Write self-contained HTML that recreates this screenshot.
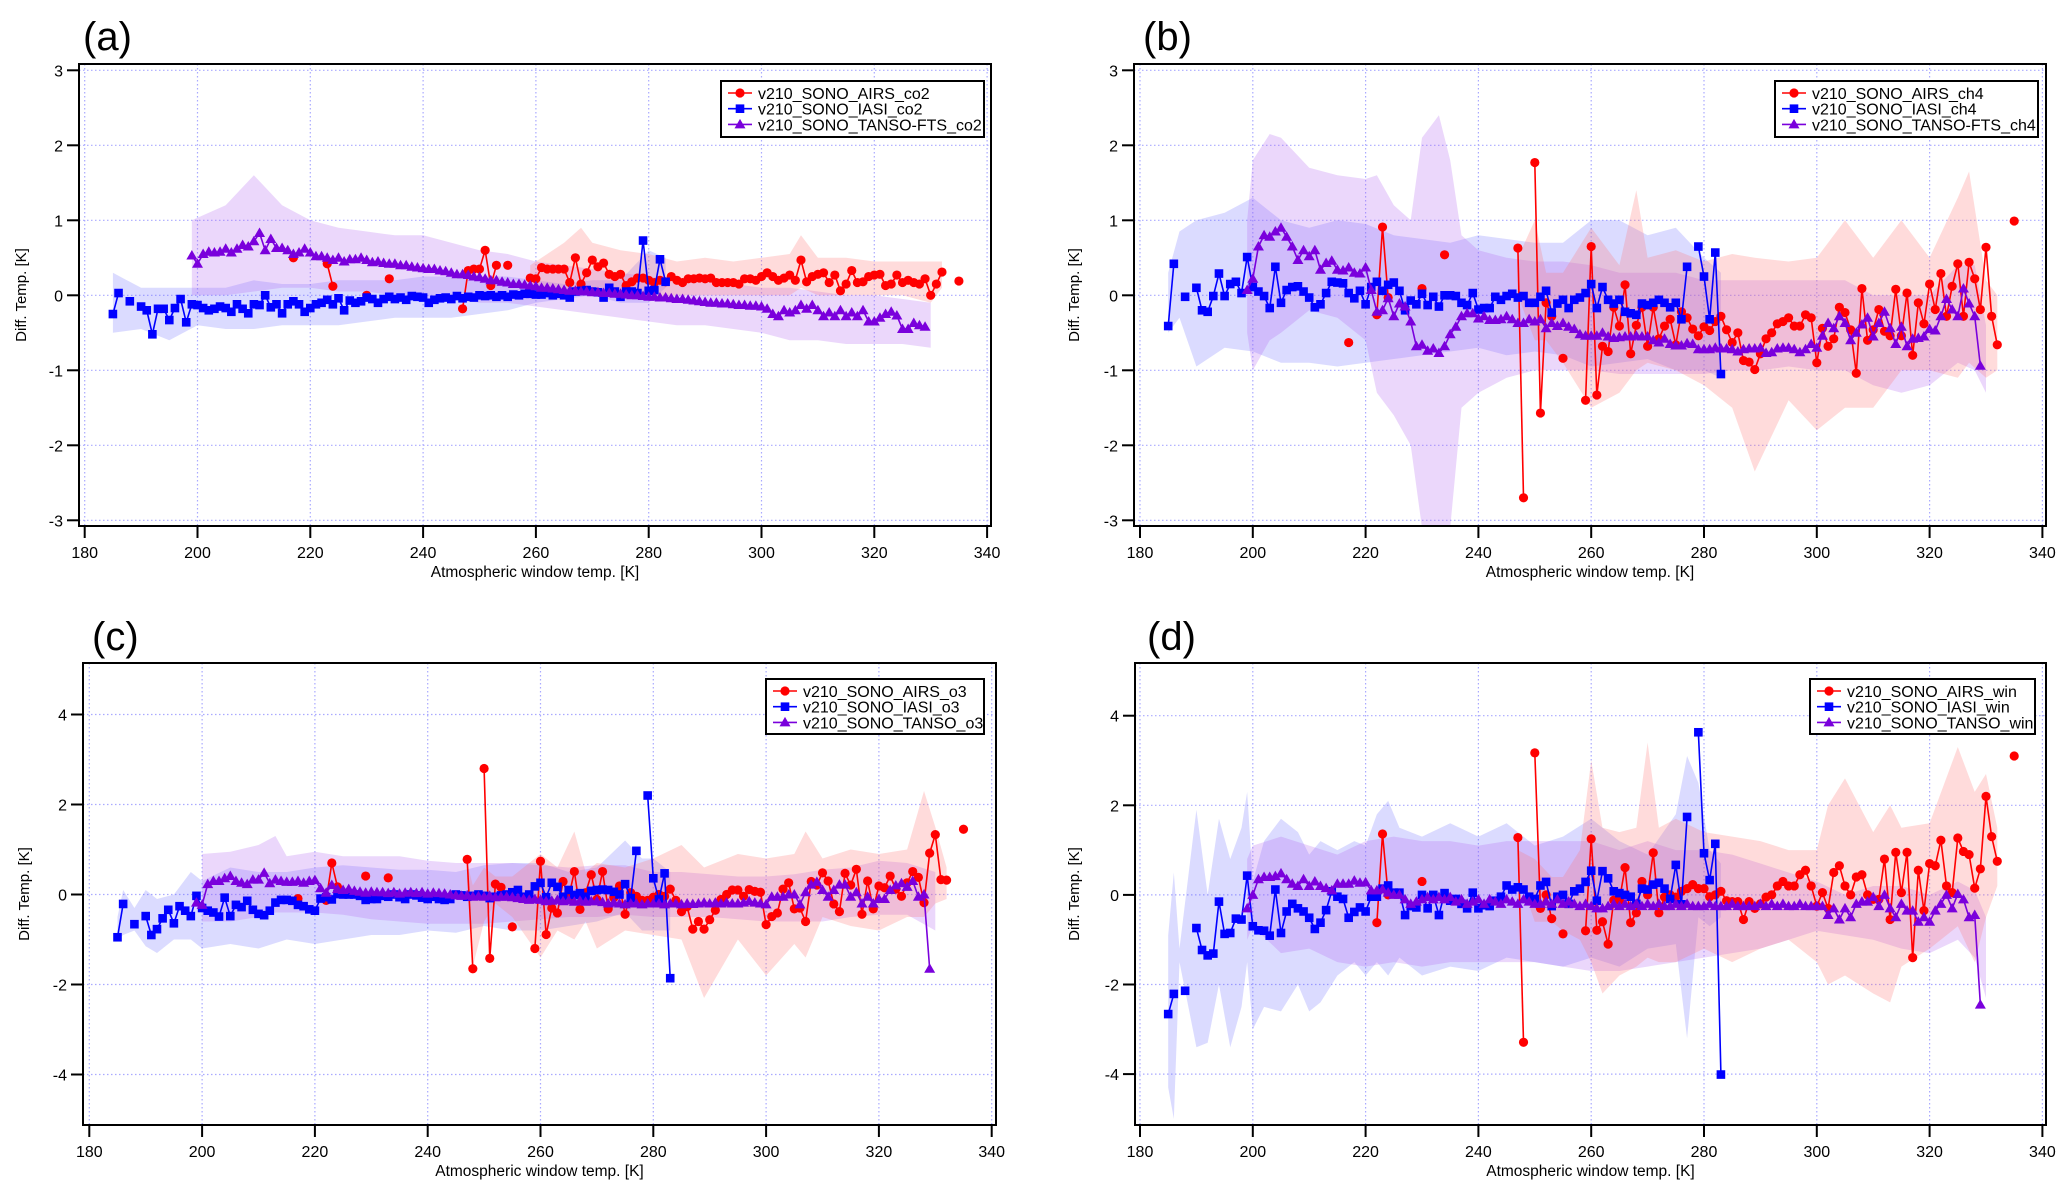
<!DOCTYPE html>
<html><head><meta charset="utf-8"><style>
html,body{margin:0;padding:0;background:#fff;}
svg{display:block;font-family:"Liberation Sans",Arial,sans-serif;}
</style></head><body>
<svg id="fig" width="2067" height="1192" viewBox="0 0 2067 1192" xmlns="http://www.w3.org/2000/svg"></svg>
<script>
// ---------- DATA ----------
const aIasiStart = 185;
const aIasi = [-0.25,0.03,null,-0.08,null,-0.15,-0.2,-0.52,-0.18,-0.18,-0.33,-0.17,-0.05,-0.36,-0.12,-0.13,-0.17,-0.2,-0.18,-0.15,-0.17,-0.22,-0.12,-0.18,-0.24,-0.12,-0.13,0.0,-0.16,-0.12,-0.24,-0.12,-0.08,-0.12,-0.22,-0.17,-0.12,-0.1,-0.06,-0.12,-0.04,-0.2,-0.07,-0.1,-0.08,-0.03,-0.05,-0.1,-0.05,-0.02,-0.05,-0.03,-0.06,-0.01,-0.02,-0.03,-0.1,-0.06,-0.04,-0.03,-0.05,-0.01,-0.04,-0.02,-0.03,0,-0.01,0,-0.02,0.0,-0.02,0.01,0.0,0.02,0.02,0.01,0.01,0.03,0.0,0.02,0.0,-0.03,0.05,0.06,0.07,0.05,0.04,-0.03,0.1,0.05,-0.02,0.05,0.05,0.03,0.73,0.06,0.07,0.48,0.18];
const aAirsStart = 217;
const aAirs = [0.5,null,null,null,null,null,0.42,0.12,null,null,null,null,null,0.0,null,null,null,0.22,null,null,null,null,null,null,null,null,null,null,null,null,-0.18,0.33,0.35,0.35,0.6,0.13,0.4,null,0.4,null,null,null,0.23,0.22,0.37,0.35,0.35,0.35,0.35,0.17,0.5,0.15,0.3,0.47,0.38,0.43,0.28,0.25,0.28,0.13,0.18,0.23,0.23,0.2,0.17,0.2,0.18,0.25,0.2,0.17,0.22,0.22,0.23,0.22,0.23,0.17,0.17,0.17,0.17,0.15,0.22,0.22,0.2,0.25,0.3,0.25,0.2,0.23,0.27,0.2,0.47,0.18,0.25,0.28,0.3,0.17,0.27,0.06,0.15,0.33,0.17,0.18,0.25,0.27,0.28,0.13,0.15,0.27,0.17,0.2,0.17,0.15,0.22,0.0,0.15,0.31,null,null,0.19];
const aTansoStart = 199;
const aTanso = [0.53,0.42,0.55,0.58,0.57,0.58,0.62,0.57,0.62,0.67,0.65,0.72,0.83,0.6,0.75,0.63,0.63,0.6,0.55,0.57,0.62,0.57,0.52,0.52,0.5,0.47,0.5,0.45,0.48,0.48,0.5,0.47,0.44,0.45,0.43,0.42,0.42,0.4,0.4,0.38,0.37,0.36,0.35,0.35,0.33,0.32,0.3,0.28,0.28,0.27,0.25,0.24,0.22,0.2,0.2,0.18,0.17,0.15,0.15,0.14,0.13,0.12,0.1,0.1,0.09,0.08,0.07,0.06,0.06,0.05,0.05,0.04,0.04,0.03,0.03,0.02,0.02,0.01,0.0,0.0,-0.01,-0.02,-0.02,-0.03,-0.03,-0.04,-0.05,-0.05,-0.06,-0.07,-0.08,-0.09,-0.1,-0.1,-0.11,-0.11,-0.12,-0.13,-0.13,-0.14,-0.14,-0.15,-0.18,-0.25,-0.28,-0.2,-0.23,-0.2,-0.13,-0.18,-0.13,-0.2,-0.28,-0.23,-0.28,-0.2,-0.28,-0.23,-0.28,-0.2,-0.35,-0.35,-0.3,-0.25,-0.22,-0.27,-0.45,-0.45,-0.37,-0.4,-0.42];
const aIasiBandK = [185,190,195,200,205,210,215,220,225,230,235,240,245,250,255,260,265,270,275,280,283];
const aIasiLo = [-0.5,-0.45,-0.6,-0.4,-0.45,-0.45,-0.4,-0.4,-0.4,-0.35,-0.3,-0.3,-0.3,-0.25,-0.2,-0.1,-0.05,0.0,-0.1,-0.1,0.1];
const aIasiHi = [0.3,0.1,0.1,0.1,0.1,0.2,0.15,0.15,0.2,0.2,0.2,0.25,0.25,0.25,0.25,0.2,0.15,0.2,0.2,0.6,0.5];
const aTansoBandK = [199,205,210,215,220,225,230,235,240,245,250,255,260,265,270,275,280,285,290,295,300,305,310,315,320,325,330];
const aTansoLo = [0.0,0.0,0.05,0.1,0.1,0.05,0.05,0.0,-0.05,-0.05,-0.1,-0.1,-0.15,-0.2,-0.25,-0.3,-0.35,-0.4,-0.4,-0.45,-0.5,-0.6,-0.6,-0.65,-0.65,-0.65,-0.7];
const aTansoHi = [1.0,1.2,1.6,1.2,1.0,0.9,0.85,0.8,0.8,0.7,0.6,0.55,0.45,0.4,0.35,0.3,0.25,0.2,0.2,0.15,0.1,0.1,0.05,0.0,0.0,-0.05,-0.1];
const aAirsBandK = [259,265,268,270,275,280,285,290,295,300,305,307,310,315,320,325,330,332];
const aAirsLo = [0.1,0.0,0.0,0.0,0.0,-0.05,0.0,0.0,0.0,0.0,0.0,0.1,0.0,0.0,0.0,0.0,-0.1,0.1];
const aAirsHi = [0.4,0.7,0.9,0.7,0.6,0.55,0.45,0.5,0.45,0.5,0.55,0.8,0.5,0.5,0.45,0.45,0.45,0.45];

const bIasiStart = 185;
const bIasi = [-0.41,0.42,null,-0.02,null,0.1,-0.2,-0.22,-0.01,0.29,-0.01,0.15,0.18,0.03,0.51,0.11,0.05,-0.01,-0.17,0.38,-0.1,0.07,0.11,0.12,0.05,-0.03,-0.16,-0.12,0.03,0.18,0.17,0.16,0.03,-0.04,0.06,-0.12,0.11,0.18,0.06,0.14,0.17,0.06,-0.2,-0.07,-0.12,0.02,-0.13,-0.02,-0.15,0,0,-0.01,-0.1,-0.13,0.03,-0.19,-0.17,-0.17,-0.02,-0.06,-0.01,0.02,-0.03,-0.01,-0.1,-0.1,-0.02,0.06,-0.23,-0.11,-0.06,-0.17,-0.06,-0.03,0.03,0.15,-0.17,0.11,-0.06,-0.11,-0.06,-0.22,-0.24,-0.26,-0.11,-0.13,-0.1,-0.06,-0.1,-0.16,-0.1,-0.32,0.38,null,0.65,0.25,-0.32,0.57,-1.05];
const bAirsStart = 217;
const bAirs = [-0.63,null,null,null,null,-0.26,0.91,-0.03,null,null,null,null,null,0.09,null,null,null,0.54,null,null,null,null,null,null,null,null,null,null,null,null,0.63,-2.7,null,1.77,-1.57,-0.1,-0.28,null,-0.84,null,null,null,-1.4,0.65,-1.33,-0.68,-0.75,-0.16,-0.41,0.14,-0.78,-0.4,-0.16,-0.68,-0.16,-0.58,-0.41,-0.32,-0.66,-0.22,-0.3,-0.45,-0.54,-0.42,-0.47,-0.35,-0.28,-0.46,-0.63,-0.5,-0.87,-0.89,-0.99,-0.78,-0.58,-0.5,-0.38,-0.35,-0.3,-0.41,-0.41,-0.26,-0.3,-0.9,-0.44,-0.68,-0.58,-0.16,-0.23,-0.46,-1.04,0.09,-0.6,-0.46,-0.19,-0.48,-0.54,0.08,-0.54,0.03,-0.8,-0.1,-0.38,0.15,-0.19,0.29,-0.28,0.12,0.42,-0.28,0.44,0.22,-0.19,0.64,-0.28,-0.66,null,null,0.99];
const bTansoStart = 199;
const bTanso = [0.07,0.22,0.65,0.8,0.78,0.85,0.9,0.78,0.65,0.47,0.6,0.52,0.6,0.34,0.43,0.46,0.34,0.33,0.37,0.3,0.29,0.37,0.07,-0.22,-0.2,-0.04,-0.28,-0.11,-0.15,-0.35,-0.68,-0.66,-0.74,-0.71,-0.77,-0.68,-0.52,-0.42,-0.28,-0.24,-0.24,-0.31,-0.28,-0.33,-0.33,-0.32,-0.28,-0.32,-0.37,-0.37,-0.32,-0.35,-0.32,-0.44,-0.37,-0.41,-0.37,-0.42,-0.45,-0.52,-0.54,-0.54,-0.54,-0.5,-0.55,-0.57,-0.56,-0.55,-0.55,-0.54,-0.55,-0.55,-0.6,-0.63,-0.58,-0.65,-0.67,-0.67,-0.64,-0.65,-0.72,-0.72,-0.72,-0.7,-0.71,-0.71,-0.72,-0.75,-0.72,-0.71,-0.71,-0.7,-0.77,-0.76,-0.71,-0.7,-0.7,-0.72,-0.76,-0.72,-0.65,-0.7,-0.54,-0.37,-0.44,-0.28,-0.37,-0.6,-0.5,-0.39,-0.3,-0.55,-0.37,-0.22,-0.44,-0.65,-0.42,-0.68,-0.58,-0.57,-0.55,-0.45,-0.47,-0.28,-0.05,-0.19,-0.28,0.09,-0.11,-0.28,-0.94];
const bIasiBandK = [185,187,190,195,200,205,210,215,220,225,230,235,240,245,250,255,260,265,270,275,280,283];
const bIasiLo = [-0.5,-0.3,-0.95,-0.7,-0.75,-0.9,-0.9,-0.95,-0.9,-0.85,-0.8,-0.75,-0.7,-0.8,-0.75,-0.8,-0.95,-0.9,-0.85,-1.0,-1.0,-1.1];
const bIasiHi = [0.3,0.85,1.0,1.1,1.3,1.0,0.9,1.0,0.95,0.8,0.75,0.7,0.8,0.75,0.7,0.7,1.0,1.0,0.8,0.9,0.5,0.3];
const bTansoBandK = [199,200,203,205,210,215,220,222,225,228,230,233,235,237,240,245,250,255,260,265,270,275,280,285,290,295,300,305,310,315,320,325,328,330];
const bTansoLo = [-0.5,-1.0,-0.6,-0.5,-0.2,-0.3,-0.6,-1.3,-1.6,-2.0,-3.1,-3.1,-3.1,-1.5,-1.3,-1.1,-1.0,-1.0,-1.0,-1.05,-1.05,-1.05,-1.05,-1.0,-1.0,-0.95,-1.0,-1.0,-1.2,-1.3,-1.2,-0.9,-1.0,-1.3];
const bTansoHi = [1.0,1.8,2.15,2.1,1.7,1.6,1.55,1.6,1.2,1.0,2.1,2.4,1.8,0.8,0.6,0.5,0.45,0.45,0.4,0.3,0.3,0.3,0.2,0.2,0.2,0.2,0.2,0.2,0.0,0.0,0.0,0.4,0.4,-0.4];
const bAirsBandK = [247,250,252,255,260,265,268,270,275,280,285,289,295,300,305,310,315,320,325,327,330,332];
const bAirsLo = [0.0,-0.6,-0.6,-0.9,-1.5,-1.3,-1.0,-0.9,-1.0,-1.2,-1.5,-2.35,-1.4,-1.8,-1.5,-1.5,-1.0,-1.0,-1.1,-0.9,-1.1,-1.0];
const bAirsHi = [0.5,1.0,0.3,0.3,0.9,0.4,1.4,0.5,0.6,0.45,0.55,0.5,0.45,0.5,1.0,0.5,1.0,0.5,1.3,1.65,0.2,0.0];

const cIasiStart = 185;
const cIasi = [-0.95,-0.21,null,-0.66,null,-0.48,-0.9,-0.77,-0.53,-0.34,-0.64,-0.26,-0.36,-0.48,-0.03,-0.3,-0.36,-0.4,-0.49,-0.07,-0.48,-0.23,-0.28,-0.14,-0.34,-0.43,-0.46,-0.36,-0.18,-0.12,-0.12,-0.14,-0.23,-0.26,-0.33,-0.36,-0.09,-0.06,-0.11,0.01,0.0,0.0,0.0,-0.03,-0.12,-0.1,-0.1,-0.03,-0.05,0.0,-0.06,-0.1,0.0,-0.02,-0.07,-0.1,-0.05,-0.1,-0.12,-0.1,0.0,-0.02,-0.05,-0.03,0.0,-0.03,-0.08,-0.05,-0.02,0.0,0.05,0.1,-0.05,0.0,0.18,0.26,-0.06,0.26,0.17,-0.05,0.1,-0.01,0.03,-0.05,0.08,0.1,0.11,0.1,0.06,0.0,0.23,-0.08,0.97,null,2.2,0.36,-0.11,0.47,-1.86];
const cAirsStart = 217;
const cAirs = [-0.09,null,null,null,null,-0.13,0.7,0.17,null,null,null,null,0.41,null,null,null,0.37,null,null,null,null,null,null,null,null,null,null,null,null,null,0.78,-1.65,null,2.8,-1.42,0.23,0.16,null,-0.72,null,null,null,-1.2,0.74,-0.89,-0.3,-0.41,0.29,-0.06,0.51,-0.33,0.04,0.44,-0.11,0.51,-0.32,-0.07,0.19,-0.44,0.04,-0.04,-0.13,-0.13,-0.06,0.0,-0.04,0.12,-0.13,-0.38,-0.27,-0.77,-0.6,-0.77,-0.56,-0.35,-0.11,0.0,0.1,0.1,-0.04,0.11,0.07,0.05,-0.67,-0.49,-0.41,0.12,0.26,-0.32,-0.3,-0.6,0.29,0.21,0.48,0.3,-0.21,-0.38,0.47,0.21,0.56,-0.44,0.3,-0.32,0.19,0.15,0.41,0.12,-0.04,0.26,0.51,0.38,-0.18,0.92,1.33,0.33,0.32,null,null,1.45];
const cTansoStart = 199;
const cTanso = [-0.18,-0.23,0.23,0.3,0.3,0.36,0.41,0.3,0.26,0.23,0.33,0.33,0.48,0.25,0.33,0.3,0.28,0.28,0.3,0.26,0.3,0.32,0.14,0.04,0.21,0.12,0.1,0.12,0.08,0.06,0.04,0.06,0.05,0.05,0.03,0.05,0.02,0.04,0.05,0.03,0.05,0.02,0.04,0.03,0.02,0.0,-0.02,-0.03,-0.02,-0.05,-0.04,-0.05,-0.03,-0.06,-0.05,-0.05,-0.06,-0.08,-0.1,-0.12,-0.1,-0.12,-0.15,-0.14,-0.12,-0.15,-0.13,-0.16,-0.14,-0.16,-0.15,-0.15,-0.17,-0.2,-0.18,-0.2,-0.22,-0.2,-0.2,-0.22,-0.2,-0.2,-0.2,-0.22,-0.2,-0.2,-0.22,-0.2,-0.21,-0.2,-0.18,-0.2,-0.18,-0.2,-0.18,-0.2,-0.2,-0.18,-0.15,-0.18,-0.2,-0.22,-0.05,-0.05,-0.05,0.0,0.0,-0.22,0.05,0.22,0.28,0.1,-0.05,0.1,0.22,0.22,-0.05,0.05,-0.2,-0.05,-0.2,-0.1,-0.1,0.1,0.2,0.25,0.17,0.3,-0.05,0.0,-1.65];
const cIasiBandK = [185,186,188,190,192,195,198,200,205,210,215,220,225,230,235,240,245,250,255,260,265,270,275,278,280,283];
const cIasiLo = [-1.0,-0.9,-0.8,-1.15,-1.3,-1.0,-1.0,-1.2,-1.1,-1.2,-1.0,-1.1,-1.0,-0.9,-0.9,-0.8,-0.85,-0.7,-0.8,-0.8,-0.7,-0.6,-0.4,-0.8,-0.8,-0.8];
const cIasiHi = [-0.5,0.1,-0.3,0.1,-0.1,0.0,0.5,0.3,0.6,0.5,0.5,0.6,0.65,0.6,0.55,0.55,0.5,0.65,0.7,0.7,0.5,0.6,1.2,0.8,0.8,0.5];
const cTansoBandK = [200,205,210,213,215,220,225,230,235,240,245,250,255,260,265,270,275,280,285,290,295,300,305,310,315,320,325,330];
const cTansoLo = [-0.6,-0.6,-0.5,-0.4,-0.4,-0.4,-0.45,-0.55,-0.6,-0.65,-0.65,-0.65,-0.6,-0.55,-0.5,-0.5,-0.45,-0.5,-0.5,-0.5,-0.55,-0.6,-0.6,-0.6,-0.5,-0.45,-0.45,-0.8];
const cTansoHi = [0.9,0.95,1.1,1.3,0.85,0.95,0.85,0.85,0.85,0.75,0.7,0.7,0.7,0.65,0.6,0.65,0.65,0.5,0.5,0.45,0.4,0.4,0.45,0.55,0.6,0.75,0.7,0.5];
const cAirsBandK = [247,248,250,252,255,260,263,266,268,270,275,280,285,289,295,300,305,307,310,315,320,325,328,330,332];
const cAirsLo = [0.3,-1.6,-0.6,-0.2,-0.5,-1.4,-0.8,-1.0,-0.6,-1.2,-0.8,-0.9,-1.0,-2.3,-1.0,-1.8,-1.1,-1.4,-0.5,-0.7,-0.8,-0.5,-0.5,-0.2,-0.1];
const cAirsHi = [0.7,0.2,0.6,0.4,0.4,0.9,0.6,1.4,0.5,0.7,0.6,0.8,1.1,0.6,0.9,0.8,0.9,1.4,0.8,1.0,0.9,1.0,2.3,1.5,0.6];

const dIasiStart = 185;
const dIasi = [-2.66,-2.21,null,-2.14,null,-0.74,-1.23,-1.35,-1.31,-0.15,-0.87,-0.85,-0.53,-0.55,0.43,-0.7,-0.79,-0.8,-0.91,0.12,-0.85,-0.37,-0.2,-0.3,-0.37,-0.51,-0.76,-0.62,-0.34,0.08,-0.04,-0.09,-0.51,-0.38,-0.28,-0.37,-0.04,-0.04,0.14,0.21,0.05,0.05,-0.45,-0.25,-0.28,0.0,-0.3,0.0,-0.45,0.04,-0.13,-0.09,-0.2,-0.3,0.05,-0.3,-0.23,-0.25,-0.13,-0.04,0.21,0.12,0.17,0.12,-0.04,-0.09,0.21,0.29,-0.25,-0.04,0.0,-0.2,0.08,0.14,0.29,0.54,-0.13,0.53,0.37,0.08,0.04,0.0,-0.04,-0.2,0.14,0.12,0.23,0.27,0.14,-0.09,0.67,-0.21,1.74,null,3.63,0.93,0.33,1.14,-4.01];
const dAirsStart = 222;
const dAirs = [-0.62,1.36,0.0,null,null,null,null,null,0.3,null,null,null,null,null,null,null,null,null,null,null,null,null,null,null,null,1.28,-3.29,null,3.17,-0.3,0.0,-0.53,null,-0.87,null,null,null,-0.8,1.25,-0.79,-0.6,-1.1,-0.12,-0.12,0.61,-0.62,-0.4,0.3,0.0,0.94,-0.4,-0.05,0.0,-0.05,0.08,0.14,0.23,0.14,0.14,-0.04,0.0,0.08,-0.13,-0.15,-0.15,-0.55,-0.15,-0.3,-0.2,-0.05,0.0,0.2,0.3,0.2,0.2,0.45,0.55,0.2,-0.25,0.05,-0.3,0.5,0.65,0.2,0.0,0.4,0.45,0.0,-0.1,-0.1,0.8,-0.55,0.95,0.05,0.95,-1.4,0.55,-0.35,0.7,0.65,1.22,0.2,0.05,1.27,0.97,0.9,0.15,0.58,2.2,1.3,0.75,null,null,3.1];
const dTansoStart = 199;
const dTanso = [-0.3,0.0,0.35,0.4,0.4,0.42,0.48,0.35,0.25,0.2,0.35,0.2,0.3,0.2,0.15,0.1,0.25,0.25,0.25,0.32,0.27,0.28,0.1,0.1,0.12,0.05,0.0,0.0,-0.1,-0.2,-0.15,-0.1,-0.05,-0.1,-0.05,-0.1,-0.05,-0.15,-0.1,-0.2,-0.15,-0.1,-0.2,-0.1,-0.15,-0.2,-0.1,-0.15,-0.2,-0.1,-0.15,-0.2,-0.2,-0.15,-0.2,-0.1,-0.2,-0.15,-0.2,-0.25,-0.2,-0.25,-0.3,-0.3,-0.25,-0.2,-0.25,-0.2,-0.25,-0.2,-0.25,-0.2,-0.25,-0.2,-0.25,-0.25,-0.2,-0.25,-0.2,-0.25,-0.25,-0.25,-0.2,-0.25,-0.25,-0.25,-0.2,-0.25,-0.25,-0.25,-0.25,-0.2,-0.25,-0.2,-0.25,-0.2,-0.25,-0.25,-0.2,-0.25,-0.25,-0.25,-0.25,-0.45,-0.3,-0.55,-0.3,-0.5,-0.2,-0.15,-0.15,-0.05,-0.25,0.0,-0.3,-0.5,-0.2,-0.35,-0.35,-0.6,-0.5,-0.6,-0.35,-0.2,0.0,-0.3,0.02,-0.1,-0.5,-0.45,-2.45];
const dIasiBandK = [185,186,187,190,192,194,196,198,199,200,202,205,208,210,212,215,218,220,222,224,226,230,235,240,245,250,255,260,265,270,275,277,279,281,283];
const dIasiLo = [-4.3,-5.0,-1.5,-3.4,-3.3,-2.0,-3.4,-2.5,-1.5,-3.0,-2.5,-2.6,-2.0,-2.6,-2.4,-1.8,-1.5,-1.8,-1.5,-1.8,-1.4,-1.8,-1.6,-1.7,-1.4,-1.5,-1.6,-1.4,-1.6,-1.2,-1.1,-3.2,-0.5,-0.7,-0.5];
const dIasiHi = [-0.9,0.5,-1.2,1.9,0.0,1.7,0.8,1.5,2.3,0.3,1.2,1.7,1.4,0.9,1.2,1.0,1.2,1.1,1.8,2.1,1.5,1.3,1.6,1.3,1.6,1.1,1.3,1.7,1.2,0.9,1.8,3.1,2.5,1.0,0.7];
const dTansoBandK = [199,200,205,210,215,220,225,230,235,240,245,250,255,260,265,270,275,280,285,290,295,300,305,310,315,320,325,328,330];
const dTansoLo = [-1.0,-0.7,-1.3,-1.2,-1.5,-1.6,-1.5,-1.6,-1.5,-1.5,-1.5,-1.5,-1.6,-1.7,-1.7,-1.6,-1.5,-1.4,-1.3,-1.2,-1.0,-0.8,-0.9,-1.0,-1.2,-1.3,-1.0,-1.4,-2.3];
const dTansoHi = [0.8,1.1,1.3,1.1,0.9,1.2,1.3,1.2,1.2,1.1,1.2,1.2,1.2,1.2,1.0,1.2,1.0,1.0,0.9,0.7,0.5,0.3,0.0,0.2,0.2,0.0,0.3,0.1,-0.5];
const dAirsBandK = [247,250,253,255,258,260,262,265,268,270,272,275,280,285,290,295,300,302,305,310,313,315,320,325,328,330,332];
const dAirsLo = [0.5,-0.6,-0.6,-0.8,-1.0,-1.5,-2.2,-1.8,-1.6,-1.4,-1.5,-1.5,-1.2,-1.5,-1.2,-1.0,-1.5,-2.0,-1.8,-2.2,-2.4,-1.6,-1.2,-0.7,-1.5,-0.5,0.2];
const dAirsHi = [1.0,0.8,0.4,0.4,1.0,3.0,1.5,1.4,1.5,3.4,1.5,1.7,1.4,1.3,1.2,1.0,1.0,2.0,2.6,1.4,2.0,1.5,1.6,3.3,2.3,2.7,1.5];

const xTicks = [180,200,220,240,260,280,300,320,340];
const yTicksAB = [-3,-2,-1,0,1,2,3];
const yTicksCD = [-4,-2,0,2,4];

// ---------- DRAWING ----------
const NS = "http://www.w3.org/2000/svg";
const svg = document.getElementById('fig');
function mk(tag, attrs, parent){const e=document.createElementNS(NS,tag);for(const k in attrs)e.setAttribute(k,attrs[k]);(parent||svg).appendChild(e);return e;}

const COL = {airs:'#ff0000', iasi:'#0000ff', tanso:'#7a00dc'};
const BAND = {airs:'rgba(255,110,110,0.25)', iasi:'rgba(90,90,255,0.22)', tanso:'rgba(175,95,240,0.25)'};

const panels = [
 {id:'a', label:'(a)', lx:83, ly:50, fx0:79, fx1:991, fy0:64, fy1:526, x180:84.7, y0:295.3, ky:75, yt:yTicksAB, ytx:22,
  legend:{x:721,y:81,w:263,h:56,names:['v210_SONO_AIRS_co2','v210_SONO_IASI_co2','v210_SONO_TANSO-FTS_co2']},
  series:{airs:[aAirsStart,aAirs,aAirsBandK,aAirsLo,aAirsHi], iasi:[aIasiStart,aIasi,aIasiBandK,aIasiLo,aIasiHi], tanso:[aTansoStart,aTanso,aTansoBandK,aTansoLo,aTansoHi]}},
 {id:'b', label:'(b)', lx:1143, ly:50, fx0:1134, fx1:2046, fy0:64, fy1:526, x180:1140, y0:295.3, ky:75, yt:yTicksAB, ytx:1075,
  legend:{x:1775,y:81,w:263,h:56,names:['v210_SONO_AIRS_ch4','v210_SONO_IASI_ch4','v210_SONO_TANSO-FTS_ch4']},
  series:{airs:[bAirsStart,bAirs,bAirsBandK,bAirsLo,bAirsHi], iasi:[bIasiStart,bIasi,bIasiBandK,bIasiLo,bIasiHi], tanso:[bTansoStart,bTanso,bTansoBandK,bTansoLo,bTansoHi]}},
 {id:'c', label:'(c)', lx:92, ly:650, fx0:83, fx1:996, fy0:663, fy1:1125, x180:89.3, y0:894.5, ky:45, yt:yTicksCD, ytx:25,
  legend:{x:766,y:679,w:218,h:55,names:['v210_SONO_AIRS_o3','v210_SONO_IASI_o3','v210_SONO_TANSO_o3']},
  series:{airs:[cAirsStart,cAirs,cAirsBandK,cAirsLo,cAirsHi], iasi:[cIasiStart,cIasi,cIasiBandK,cIasiLo,cIasiHi], tanso:[cTansoStart,cTanso,cTansoBandK,cTansoLo,cTansoHi]}},
 {id:'d', label:'(d)', lx:1147, ly:650, fx0:1135, fx1:2046, fy0:663, fy1:1125, x180:1140, y0:894.9, ky:44.8, yt:yTicksCD, ytx:1075,
  legend:{x:1810,y:679,w:225,h:55,names:['v210_SONO_AIRS_win','v210_SONO_IASI_win','v210_SONO_TANSO_win']},
  series:{airs:[dAirsStart,dAirs,dAirsBandK,dAirsLo,dAirsHi], iasi:[dIasiStart,dIasi,dIasiBandK,dIasiLo,dIasiHi], tanso:[dTansoStart,dTanso,dTansoBandK,dTansoLo,dTansoHi]}}
];
const KX = 5.64;

function marker(kind, x, y, parent){
  let m;
  if(kind==='airs'){ m=mk('circle',{cx:x,cy:y,r:4.6,fill:COL.airs},parent); }
  else if(kind==='iasi'){ m=mk('rect',{x:x-4.3,y:y-4.3,width:8.6,height:8.6,fill:COL.iasi},parent); }
  else { m=mk('polygon',{points:`${x},${y-5.5} ${x-5.5},${y+4} ${x+5.5},${y+4}`,fill:COL.tanso},parent); }
  return m;
}

panels.forEach(p=>{
  const sx = k => p.x180 + (k-180)*KX;
  const sy = v => p.y0 - v*p.ky;
  const g = mk('g',{});
  
  
  const lab = mk('text',{x:p.lx,y:p.ly,'font-size':40,fill:'#000'},g);
  lab.textContent = p.label;
  
  
  const cp = mk('clipPath',{id:'clip'+p.id},g);
  mk('rect',{x:p.fx0,y:p.fy0,width:p.fx1-p.fx0,height:p.fy1-p.fy0},cp);
  const grid = mk('g',{stroke:'#a9a9ff','stroke-width':1.2,'stroke-dasharray':'1.5,2.5'},g);
  
  
  xTicks.forEach(t=>{ mk('line',{x1:sx(t),x2:sx(t),y1:p.fy0,y2:p.fy1},grid); });
  p.yt.forEach(t=>{ mk('line',{x1:p.fx0,x2:p.fx1,y1:sy(t),y2:sy(t)},grid); });
  const dg = mk('g',{'clip-path':`url(#clip${p.id})`},g);
  
  
  ['iasi','tanso','airs'].forEach(s=>{
    const [st,vals,bk,lo,hi] = p.series[s];
    let pts = bk.map((k,i)=>`${sx(k)},${sy(hi[i])}`);
    for(let i=bk.length-1;i>=0;i--) pts.push(`${sx(bk[i])},${sy(lo[i])}`);
    const band = mk('polygon',{points:pts.join(' '),fill:BAND[s]},dg);
    
    
  });
  ['airs','iasi','tanso'].forEach(s=>{
    const [st,vals] = p.series[s];
    const sg = mk('g',{},dg);
    
    
    let seg=[];
    const flush=()=>{ if(seg.length>1){ mk('polyline',{points:seg.join(' '),fill:'none',stroke:COL[s],'stroke-width':1.6},sg);} seg=[]; };
    vals.forEach((v,i)=>{ if(v===null){flush();} else seg.push(`${sx(st+i)},${sy(v)}`); });
    flush();
    vals.forEach((v,i)=>{ if(v!==null){ const m=marker(s,sx(st+i),sy(v),sg);
      
       } });
  });
  const fr = mk('rect',{x:p.fx0,y:p.fy0,width:p.fx1-p.fx0,height:p.fy1-p.fy0,fill:'none',stroke:'#000','stroke-width':2},g);
  
  
  const ax = mk('g',{},g);
  
  
  xTicks.forEach(t=>{
    mk('line',{x1:sx(t),x2:sx(t),y1:p.fy1,y2:p.fy1+12,stroke:'#000','stroke-width':2},ax);
    const tx = mk('text',{x:sx(t),y:p.fy1+32,'font-size':16,'text-anchor':'middle',fill:'#000'},ax);
    tx.textContent = t;
    
    
  });
  const xt = mk('text',{x:(p.fx0+p.fx1)/2,y:p.fy1+51,'font-size':15.5,'text-anchor':'middle',fill:'#000'},ax);
  xt.textContent = 'Atmospheric window temp. [K]';
  
  
  const ay = mk('g',{},g);
  
  
  p.yt.forEach(t=>{
    mk('line',{x1:p.fx0-12,x2:p.fx0,y1:sy(t),y2:sy(t),stroke:'#000','stroke-width':2},ay);
    const tx = mk('text',{x:p.fx0-16,y:sy(t)+6,'font-size':16,'text-anchor':'end',fill:'#000'},ay);
    tx.textContent = t;
    
    
  });
  const cy = (p.fy0+p.fy1)/2;
  const yt = mk('text',{x:p.ytx,y:cy,'font-size':15,'text-anchor':'middle',fill:'#000',transform:`rotate(-90 ${p.ytx} ${cy})`,'dominant-baseline':'middle'},ay);
  yt.textContent = 'Diff. Temp. [K]';
  
  
  const L = p.legend;
  const lg = mk('g',{},g);
  
  
  mk('rect',{x:L.x,y:L.y,width:L.w,height:L.h,fill:'#fff',stroke:'#000','stroke-width':2},lg);
  ['airs','iasi','tanso'].forEach((s,i)=>{
    const ry = L.y+12+i*15.7;
    const e = mk('g',{},lg);
    
    
    mk('line',{x1:L.x+7,x2:L.x+31,y1:ry,y2:ry,stroke:COL[s],'stroke-width':1.6},e);
    marker(s,L.x+19,ry,e);
    const t = mk('text',{x:L.x+37,y:ry+6,'font-size':16,fill:'#000'},e);
    t.textContent = L.names[i];
  });
});
</script>
</body></html>
